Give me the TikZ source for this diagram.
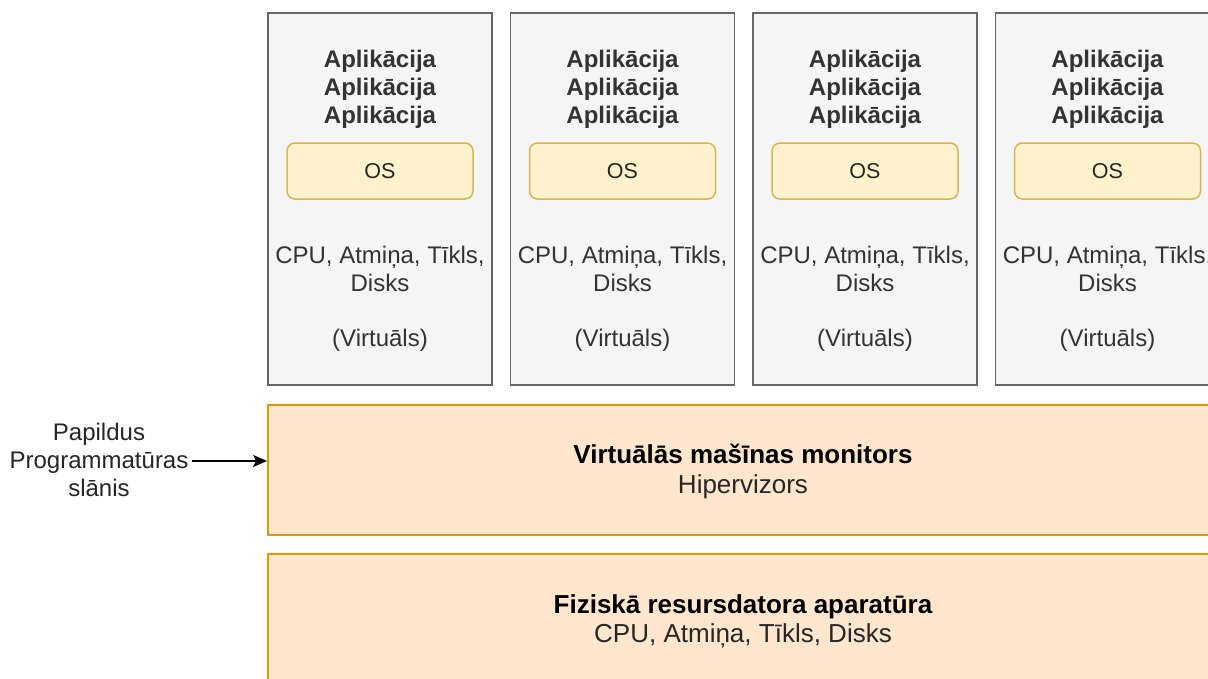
\documentclass[tikz,border=0pt]{standalone}
\usepackage{fontspec}
\setmainfont{Liberation Sans}
\usetikzlibrary{arrows.meta}
\definecolor{vmfill}{HTML}{F5F5F5}
\definecolor{vmline}{HTML}{666666}
\definecolor{vmtext}{HTML}{333333}
\definecolor{osfill}{HTML}{FFF2CC}
\definecolor{osline}{HTML}{D6B656}
\definecolor{layerfill}{HTML}{FFE6CC}
\definecolor{layerline}{HTML}{D79B00}
\tikzset{
  vmbox/.style={draw=vmline, fill=vmfill, line width=1.5pt, minimum width=224pt, minimum height=372pt, inner sep=0pt},
  osbox/.style={draw=osline, fill=osfill, line width=1.5pt, rounded corners=8pt, minimum width=186pt, minimum height=56pt},
  ostxt/.style={inner sep=0pt, anchor=base, font=\fontsize{21.5}{26}\selectfont, text=black!85},
  layerbox/.style={draw=layerline, fill=layerfill, line width=1.8pt, minimum width=950pt, minimum height=130pt, inner sep=0pt},
  line/.style={inner sep=0pt, anchor=base, font=\fontsize{24}{28}\selectfont},
  vmtxt/.style={line, text=vmtext},
  vmbold/.style={line, text=vmtext, font=\fontsize{24}{28}\selectfont\bfseries},
  layerbold/.style={line, font=\fontsize{26}{30}\selectfont\bfseries},
  layertxt/.style={line, font=\fontsize{26}{30}\selectfont, text=black!85},
  plain/.style={line, text=black!85},
  pointer/.style={-{Stealth[length=14pt,width=12pt,inset=3pt]}, line width=1.5pt},
}
\begin{document}
\begin{tikzpicture}[x=1pt,y=-1pt]
\useasboundingbox (0,0) rectangle (1208,678);
\clip (0,0) rectangle (1208,678);

% four virtual machines
\foreach \i/\cx in {1/380, 2/622.5, 3/865, 4/1107.5} {
  \node[vmbox] (vm\i) at (\cx,199) {};
  \node[vmbold] (appa\i) at (\cx,67) {Aplikācija};
  \node[vmbold] (appb\i) at (\cx,95) {Aplikācija};
  \node[vmbold] (appc\i) at (\cx,123) {Aplikācija};
  \node[osbox] (os\i) at (\cx,171) {};
  \node[ostxt] (ostext\i) at (\cx,178.5) {OS};
  \node[vmtxt] (hwa\i) at (\cx,263.5) {CPU, Atmiņa, Tīkls,};
  \node[vmtxt] (hwb\i) at (\cx,291.5) {Disks};
  \node[vmtxt] (virt\i) at (\cx,346) {(Virtuāls)};
}

% hypervisor layer
\node[layerbox] (hyp) at (743,470) {};
\node[layerbold] (hyptitle) at (743,463.5) {Virtuālās mašīnas monitors};
\node[layertxt] (hypsub) at (743,493.5) {Hipervizors};

% physical hardware layer
\node[layerbox] (hw) at (743,619) {};
\node[layerbold] (hwtitle) at (743,613.5) {Fiziskā resursdatora aparatūra};
\node[layertxt] (hwsub) at (743,642.5) {CPU, Atmiņa, Tīkls, Disks};

% side label with pointer to the hypervisor
\node[plain] (lbla) at (99,440.5) {Papildus};
\node[plain] (lblb) at (99,468.5) {Programmatūras};
\node[plain] (lblc) at (99,496.5) {slānis};
\draw[pointer] ([xshift=3pt,yshift=7.5pt]lblb.base east) -- ([yshift=7.5pt]lblb.base east -| hyp.west);
\end{tikzpicture}
\end{document}
